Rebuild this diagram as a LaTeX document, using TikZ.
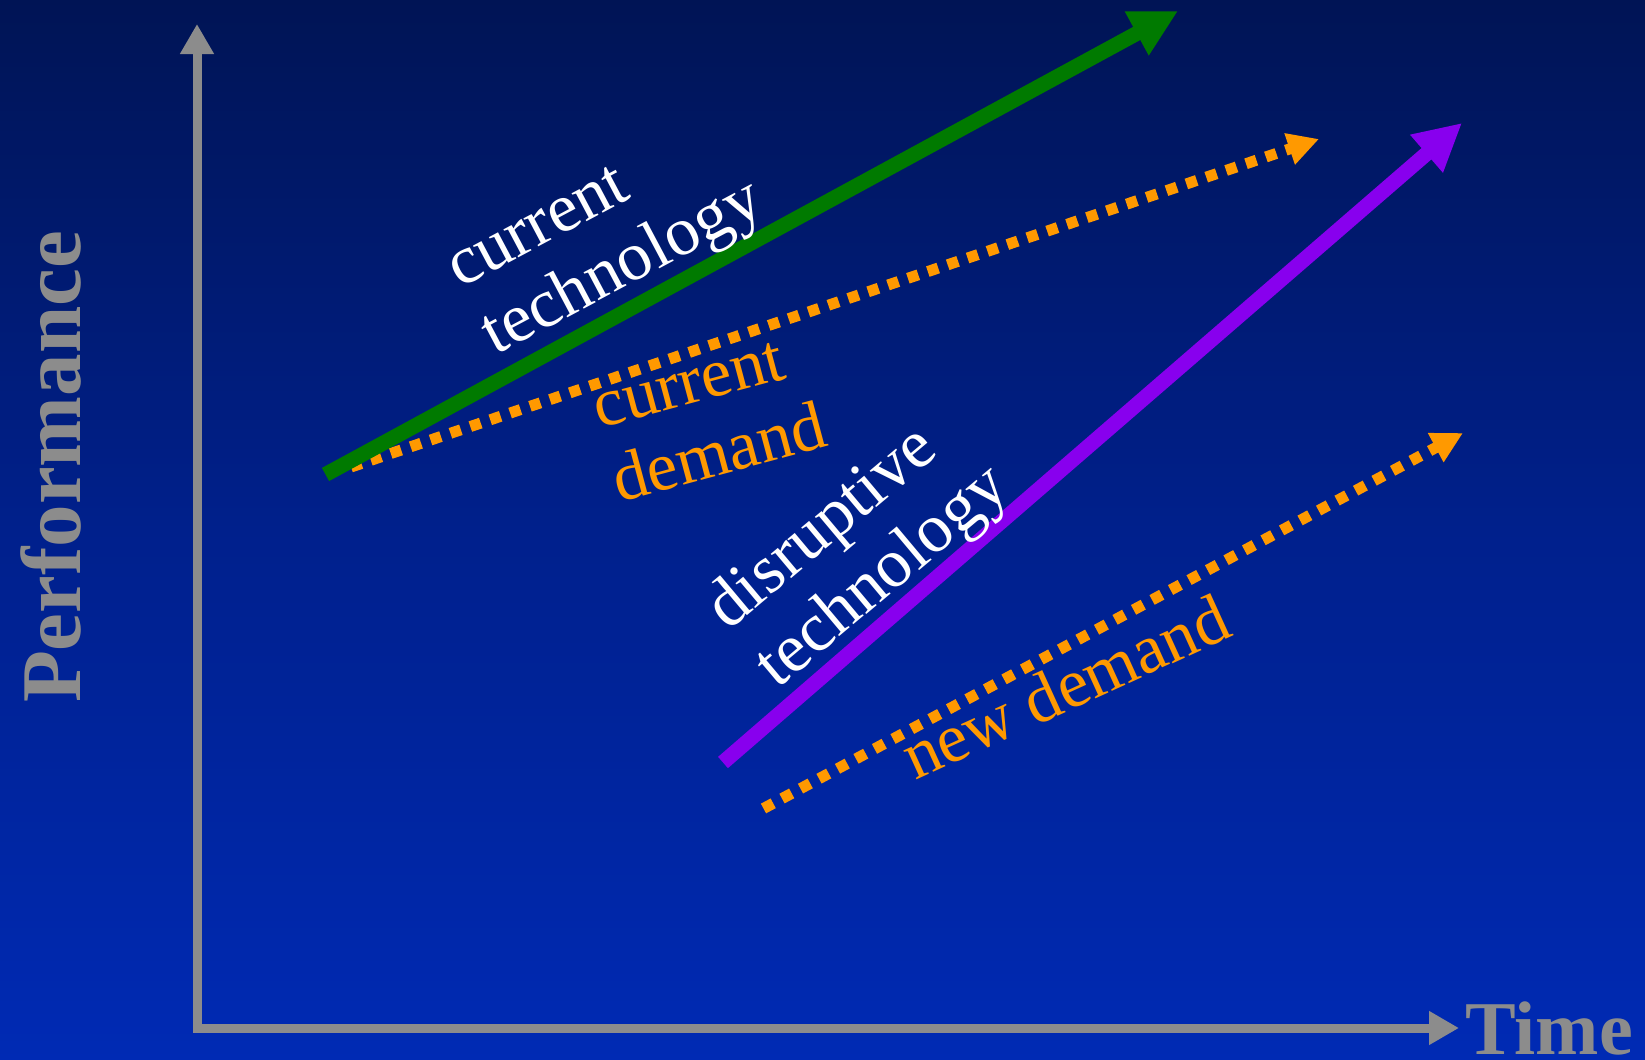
\documentclass[tikz,border=0pt]{standalone}
\usepackage{fontspec}
\setmainfont{Liberation Serif}
\usetikzlibrary{arrows.meta}

\definecolor{bgtop}{RGB}{0,20,85}
\definecolor{bgmid}{RGB}{0,32,140}
\definecolor{bgbot}{RGB}{0,42,180}
\definecolor{axisgray}{RGB}{140,140,140}
\definecolor{techgreen}{RGB}{0,122,0}
\definecolor{demandorange}{RGB}{255,153,0}
\definecolor{disruptpurple}{RGB}{136,0,238}

\begin{document}
\begin{tikzpicture}[
  x=0.5pt, y=-0.5pt,
  axis/.style={draw=axisgray, line width=4.5pt, {Triangle[length=15pt,width=16pt]}-{Triangle[length=15pt,width=16pt]}},
  tech/.style={line width=7.5pt, -{Triangle[length=23.5pt,width=23.5pt]}},
  demand/.style={draw=demandorange, line width=5.5pt, dash pattern=on 5.5pt off 5pt, -{Triangle[length=15.5pt,width=15.5pt]}},
  lbl/.style={inner sep=0pt, align=left, font=\fontsize{34.5}{38}\selectfont},
  axlbl/.style={inner sep=0pt, text=axisgray}
]
% background
\shade[top color=bgtop, bottom color=bgbot, middle color=bgmid] (0,0) rectangle (1645,1060);
\useasboundingbox (0,0) rectangle (1645,1060);

% axes
\coordinate (ytip) at (197,24);
\coordinate (xtip) at (1459,1028);
\draw[axis] (ytip) |- (xtip);
\node[axlbl, font=\bfseries\fontsize{42.5}{42.5}\selectfont, rotate=90, anchor=base] (perf) at (80,467) {Performance};
\node[axlbl, font=\bfseries\fontsize{38}{38}\selectfont, anchor=base west] (time) at (1465,1054) {Time};

% trend lines
\coordinate (ct0) at (325.5,474.5);
\coordinate (ct1) at (1178,11);
\coordinate (cd0) at (351,467);
\coordinate (cd1) at (1319,139);
\coordinate (dt0) at (723,762.5);
\coordinate (dt1) at (1462,123);
\coordinate (nd0) at (763.5,808.5);
\coordinate (nd1) at (1463,433);

\draw[demand] (cd0) -- (cd1);
\draw[tech, techgreen] (ct0) -- (ct1);
\draw[tech, disruptpurple] (dt0) -- (dt1);
\draw[demand] (nd0) -- (nd1);

% labels
\node[lbl, text=white, rotate=28, anchor=west] (curtech) at (472,312) {current\\technology};
\node[lbl, text=demandorange, rotate=15, anchor=west] (curdem) at (604,447) {current\\demand};
\node[lbl, text=white, rotate=40, anchor=west] (disrtech) at (742,648) {disruptive\\technology};
\node[lbl, text=demandorange, rotate=24.5, anchor=base west] (newdem) at (915,781) {new demand};
\end{tikzpicture}
\end{document}
